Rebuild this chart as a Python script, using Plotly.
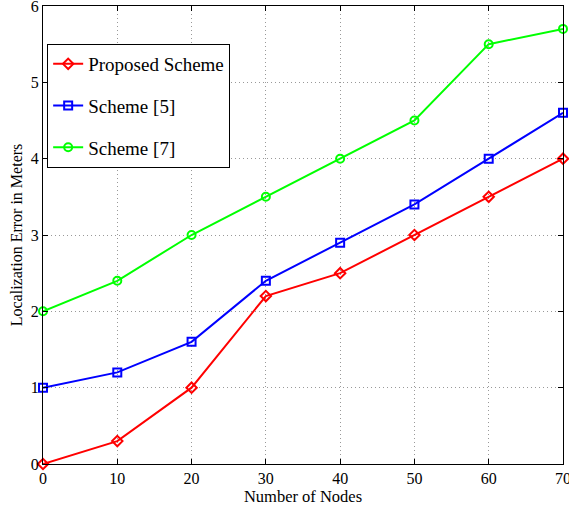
import plotly.graph_objects as go

nodes = [0, 10, 20, 30, 40, 50, 60, 70]
proposed = [0, 0.3, 1.0, 2.2, 2.5, 3.0, 3.5, 4.0]
scheme5 = [1.0, 1.2, 1.6, 2.4, 2.9, 3.4, 4.0, 4.6]
scheme7 = [2.0, 2.4, 3.0, 3.5, 4.0, 4.5, 5.5, 5.7]

series = [
    ("Proposed Scheme", proposed, "#ff0000", "diamond-open"),
    ("Scheme [5]", scheme5, "#0000ff", "square-open"),
    ("Scheme [7]", scheme7, "#00ff00", "circle-open"),
]

fig = go.Figure()
for i, (name, vals, col, sym) in enumerate(series):
    fig.add_trace(go.Scatter(
        x=nodes, y=vals, name=name, mode="lines+markers",
        line=dict(color=col, width=2),
        marker=dict(symbol=sym, size=8, color=col, line=dict(width=2, color=col)),
        legendgroup=f"g{i}",
        cliponaxis=False,
    ))

font = "Liberation Serif, Times New Roman, serif"
axis_common = dict(
    showline=True, linecolor="black", linewidth=1, mirror="ticks",
    ticks="inside", ticklen=5, tickcolor="black",
    showgrid=True, gridcolor="#999999", griddash="1px,3px", gridwidth=1,
    zeroline=False, tickfont=dict(family=font, size=16, color="black"),
    ticklabeloverflow="allow", automargin=False,
)
fig.update_layout(
    width=569, height=508,
    margin=dict(l=43, r=6, t=6, b=44),
    paper_bgcolor="white", plot_bgcolor="white",
    font=dict(family=font, color="black"),
    xaxis=dict(range=[0, 70], dtick=10,
               title=dict(text="Number of Nodes", font=dict(family=font, size=16.5), standoff=2),
               **axis_common),
    yaxis=dict(range=[0, 6], dtick=1,
               title=dict(text="Localization Error in Meters", font=dict(family=font, size=16), standoff=4),
               **axis_common),
    legend=dict(x=0.008, y=0.917, xanchor="left", yanchor="top",
                bordercolor="black", borderwidth=1, bgcolor="white",
                font=dict(family=font, size=19, color="black"),
                traceorder="grouped", tracegroupgap=14),
    showlegend=True,
)
fig.write_html("out.html", config={"displayModeBar": False},
               post_script="document.body.style.margin='0px';document.body.style.padding='0px';")
